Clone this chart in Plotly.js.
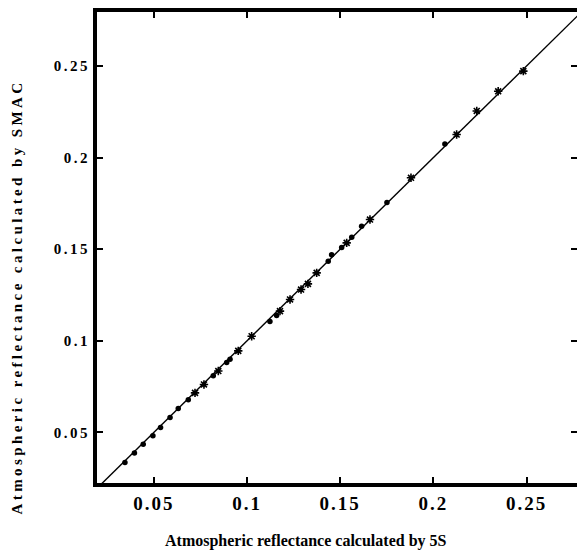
<!DOCTYPE html>
<html>
<head>
<meta charset="utf-8">
<script src="https://cdn.plot.ly/plotly-3.0.1.min.js"></script>
<style>
html,body{margin:0;padding:0;overflow:hidden;background:#fff;}
#chart{width:577px;height:554px;}
.xtick text{letter-spacing:2px;}
.ytick text{letter-spacing:2.5px;}
g.annotation[data-index="1"] text{letter-spacing:3.4px;}
</style>
</head>
<body>
<div id="chart"></div>
<script>
// Points drawn with filled dots
const dotX = [0.0345,0.0396,0.0443,0.0495,0.0536,0.0587,0.0631,0.0685,0.0819,0.0891,0.0909,0.1123,0.1159,0.1436,0.1454,0.1508,0.1562,0.1615,0.1751,0.2062];
const dotY = [0.0336,0.0388,0.0435,0.0482,0.0527,0.0582,0.0630,0.0678,0.0810,0.0882,0.0900,0.1105,0.1138,0.1435,0.1470,0.1510,0.1565,0.1625,0.1755,0.2075];
// Points drawn with crosses / asterisks
const crossX = [0.0721,0.0769,0.0846,0.0953,0.1025,0.1177,0.1231,0.1290,0.1327,0.1374,0.1535,0.1660,0.1880,0.2125,0.2233,0.2348,0.2483];
const crossY = [0.0716,0.0762,0.0835,0.0945,0.1025,0.1162,0.1226,0.1280,0.1311,0.1371,0.1535,0.1662,0.1890,0.2126,0.2255,0.2362,0.2472];
// 1:1 reference line
const oneToOne = [0.0, 0.3];
const xTitle = "Atmospheric reflectance calculated by 5S";
const yTitle = "Atmospheric reflectance calculated by SMAC";

const traces = [
  {x: oneToOne, y: oneToOne, mode: 'lines', line: {color: '#000', width: 1.4}, hoverinfo: 'skip'},
  {x: dotX, y: dotY, mode: 'markers', marker: {symbol: 'circle', size: 5.5, color: '#000'}},
  {x: crossX, y: crossY, mode: 'markers', marker: {symbol: 'asterisk-open', size: 7, color: '#000', line: {color: '#000', width: 1.6}}}
];

const axisCommon = {
  showgrid: false, zeroline: false,
  showline: true, linecolor: '#000', linewidth: 4,
  mirror: 'ticks', ticks: 'inside', ticklen: 6, tickwidth: 2, tickcolor: '#000',
  tick0: 0, dtick: 0.05
};

const layout = {
  width: 577, height: 554,
  margin: {l: 97, r: 0, t: 12, b: 71},
  paper_bgcolor: '#fff', plot_bgcolor: '#fff',
  showlegend: false,
  xaxis: Object.assign({}, axisCommon, {
    range: [0.0195, 0.2771],
    tickfont: {family: 'Liberation Serif, serif', size: 19, color: '#000', weight: 'bold'}
  }),
  yaxis: Object.assign({}, axisCommon, {
    range: [0.0224, 0.2795],
    tickfont: {family: 'Liberation Serif, serif', size: 15, color: '#000', weight: 'bold'}
  }),
  annotations: [
    {text: xTitle, xref: 'paper', yref: 'paper', x: (306-97)/480, y: -(541-483)/471,
     xanchor: 'center', yanchor: 'middle', showarrow: false,
     font: {family: 'Liberation Serif, serif', size: 16, color: '#000', weight: 'bold'}},
    {text: yTitle, xref: 'paper', yref: 'paper', x: -(97-17)/480, y: (483-297)/471,
     xanchor: 'center', yanchor: 'middle', textangle: -90, showarrow: false,
     font: {family: 'Liberation Serif, serif', size: 15, color: '#000', weight: 'bold'}}
  ]
};

Plotly.newPlot('chart', traces, layout, {displayModeBar: false, staticPlot: true});
</script>
</body>
</html>
